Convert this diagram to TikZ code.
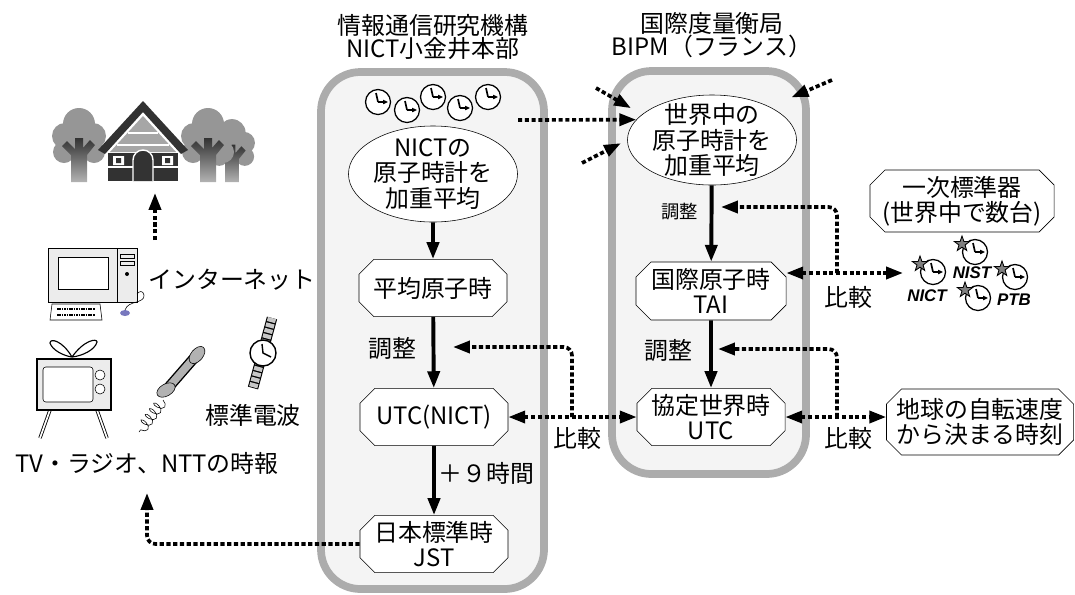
\documentclass[tikz,border=0pt]{standalone}
\usepackage{fontspec}
\setmainfont{Noto Sans CJK JP}
\newfontfamily\labfont{Liberation Sans}
\usetikzlibrary{arrows.meta,shapes.geometric,shapes.misc,decorations.pathmorphing}
\definecolor{framegray}{RGB}{172,172,172}
\definecolor{panelgray}{RGB}{244,244,244}
\definecolor{crowngray}{RGB}{150,150,150}
\definecolor{barkgray}{RGB}{50,50,50}
\definecolor{mousegray}{RGB}{120,120,190}
\newcommand{\jtext}{\fontsize{17}{18}\selectfont}
\newcommand{\jsmall}{\fontsize{13}{15}\selectfont}
\lineskiplimit=-20pt
\tikzset{
    bighead/.tip={Triangle[length=12pt, width=8.5pt]},
    site/.style={draw=framegray, line width=5.5pt, fill=panelgray, rounded corners=28pt},
    heading/.style={align=center, font=\fontsize{17}{16.5}\selectfont, inner sep=0pt},
    stage/.style={chamfered rectangle, chamfered rectangle xsep=7pt, draw, thin, fill=white,
        align=center, font=\jtext, inner sep=0pt},
    pool/.style={ellipse, draw, thin, fill=white, align=center, font=\jtext,
        inner xsep=0pt, inner ysep=-6pt},
    note/.style={font=\jtext, inner sep=1pt},
    lab/.style={font=\labfont\bfseries\itshape\fontsize{12}{12}\selectfont, inner sep=0pt},
    flow/.style={line width=2.8pt, -bighead},
    feed/.style={line width=2.6pt, dash pattern=on 3pt off 1.8pt, -bighead},
    compare/.style={feed, bighead-bighead},
    clock/.pic={
        \draw[line width=0.9pt, fill=white] (0,0) circle (12.5);
        \draw[line width=1.2pt] (-2,-9) -- (0,0);
        \draw[line width=1.2pt, -{Triangle[length=3.5pt, width=3pt]}] (0,0) -- (10,0);
    },
    starclock/.pic={
        \pic {clock};
        \draw[fill=gray, line width=0.6pt, shift={(-13,-8)}] (-90:8)
            \foreach \k in {1,...,9} { -- ({-90+36*\k}:{ifthenelse(mod(\k,2)==0,8,3.2)}) } -- cycle;
    },
    tree/.pic={
        \fill[crowngray] (0,-58) circle (16) (-14,-46) circle (13) (14,-46) circle (13)
            (-15,-30) circle (11) (15,-30) circle (11) (0,-36) circle (14);
        \shade[top color=barkgray, bottom color=gray!60] (-8,0) -- (-8,-27) -- (-17,-36) -- (-12,-41)
            -- (-4,-33) -- (-4,-44) -- (4,-44) -- (4,-34) -- (11,-42) -- (16,-37) -- (8,-27) -- (8,0) -- cycle;
    },
}

\begin{document}
\begin{tikzpicture}[x=0.025cm, y=-0.025cm]
\useasboundingbox (0,0) rectangle (1075,594);

% the two sites
\draw[site] (321,72) rectangle (544,589);
\draw[site] (612,71) rectangle (806,474);
\node[heading] (nicthead) at (433,37) {情報通信研究機構\\NICT小金井本部};
\node[heading] (bipmhead) at (712,35) {国際度量衡局\\BIPM（フランス）};

% clocks of NICT
\foreach \cx/\cy in {378/102, 407/110, 433/97, 460/108, 488/97}
    \pic at (\cx,\cy) {clock};

% NICT chain
\node[pool, minimum width=4.2cm, minimum height=2.4cm] (nictavg) at (433,174) {NICTの\\原子時計を\\加重平均};
\node[stage, minimum width=3.7cm, minimum height=1.43cm] (tam) at (433,288) {平均原子時};
\node[stage, minimum width=3.7cm, minimum height=1.43cm] (utcnict) at (434,417) {UTC(NICT)};
\node[stage, minimum width=3.7cm, minimum height=1.43cm] (jst) at (434,544) {日本標準時\\JST};

\draw[flow] (nictavg) -- (tam);
\draw[flow] (tam) -- node[note, left=10pt, pos=0.45] (adjnictlab) {調整} (utcnict);
\draw[flow] (utcnict) -- node[note, right=1pt, pos=0.4] (jstlab) {＋９時間} (jst);

% BIPM chain
\node[pool, minimum width=4.2cm, minimum height=2.25cm] (bipmavg) at (712,140) {世界中の\\原子時計を\\加重平均};
\node[stage, minimum width=3.75cm, minimum height=1.45cm] (tai) at (711,291) {国際原子時\\TAI};
\node[stage, minimum width=3.7cm, minimum height=1.43cm] (utc) at (711,417) {協定世界時\\UTC};

\draw[flow] (bipmavg) -- node[font=\jsmall, left=5pt, pos=0.35] (adjtailab) {調整} (tai);
\draw[flow] (tai) -- node[note, left=11pt, pos=0.45] (adjutclab) {調整} (utc);

% clocks sent to the BIPM
\coordinate (nictout) at (518,120);
\coordinate (labA) at (596,88);
\coordinate (labB) at (582,163);
\coordinate (labC) at (832,80);
\draw[feed] (nictout) -- (bipmavg.165);
\draw[feed, shorten >=9pt] (labA) -- (bipmavg.160);
\draw[feed, shorten >=5pt] (labB) -- (bipmavg.west);
\draw[feed, shorten >=17pt] (labC) -- (bipmavg.30);

% primary standards
\node[stage, minimum width=4.6cm, minimum height=1.55cm] (primary) at (962,201) {一次標準器\\(世界中で数台)};
\pic at (933,272) {starclock};
\pic at (975,252) {starclock};
\pic at (1015,277) {starclock};
\pic at (978,298) {starclock};
\node[lab] (nictlab) at (927,296) {NICT};
\node[lab] (nistlab) at (972,273) {NIST};
\node[lab] (ptblab) at (1014,300) {PTB};
\coordinate (stdclocks) at (903,273);

% comparisons and adjustments
\node[stage, minimum width=4.65cm, minimum height=1.65cm] (rotation) at (980,422) {地球の自転速度\\から決まる時刻};

\draw[compare] (stdclocks -| tai.east) -- (stdclocks);
\coordinate (cmptai) at (837,273);
\coordinate (adjtai) at (721,207);
\draw[feed, rounded corners=6pt] (cmptai) |- (adjtai);
\node[note] (cmptailab) at (848,297) {比較};

\draw[compare] (utc.east) -- (utc.east -| rotation.west);
\coordinate (cmputc) at (837,417);
\coordinate (adjutc) at (718,349);
\draw[feed, rounded corners=6pt] (cmputc) |- (adjutc);
\node[note] (cmputclab) at (848,438) {比較};

\draw[compare] (utcnict.east) -- (utc.west);
\coordinate (cmpnict) at (572,417);
\coordinate (adjnict) at (453,347);
\draw[feed, rounded corners=6pt] (cmpnict) |- (adjnict);
\node[note] (cmpnictlab) at (577,438) {比較};

% homes and trees
\pic[scale=0.85] at (232,182) {tree};
\pic at (208,182) {tree};
\pic at (79,182) {tree};
\fill[barkgray] (143,101) -- (188,150) -- (181,154) -- (143,112) -- (105,154) -- (98,150) -- cycle;
\fill[gray!70] (143,116) -- (176,152) -- (110,152) -- cycle;
\draw[white, line width=1.2pt] (128,133) -- (158,133) (117,145) -- (169,145);
\fill[barkgray] (108,153) rectangle (178,181);
\draw[white, line width=1pt] (108,167) -- (178,167);
\fill[white] (113,156) rectangle (124,165) (162,156) rectangle (173,165);
\fill[barkgray] (116,158) rectangle (121,163) (165,158) rectangle (170,163);
\draw[white, line width=1pt, fill=gray!40!black] (133,181) -- (133,160) arc[start angle=180, end angle=360, radius=10] -- (153,181);

% computer
\draw[fill=gray!15] (48,248) rectangle (117,302);
\draw[fill=white] (58,257) rectangle (108,289);
\draw[fill=gray!15] (117,248) rectangle (137,302);
\draw (120,254) rectangle (134,258) (120,261) rectangle (134,265);
\fill (127,274) circle (2);
\draw[fill=white] (52,304) -- (100,304) -- (102,320) -- (50,320) -- cycle;
\draw[line width=2pt, dash pattern=on 1.2pt off 0.5pt] (57,309) -- (95,309) (57,315) -- (95,315);
\fill[mousegray] (125,313) ellipse (5 and 3);
\draw (125,310) .. controls (128,300) and (145,304) .. (144,295) .. controls (143,290) and (139,291) .. (137,294);
\node[note] (netlab) at (232,280) {インターネット};
\coordinate (pctop) at (155,240);
\coordinate (homefoot) at (155,193);
\draw[feed] (pctop) -- (homefoot);

% television
\draw[line width=0.8pt, fill=white] (72,357) .. controls (62,340) and (50,338) .. (50,343) .. controls (52,350) and (64,356) .. (72,357);
\draw[line width=0.8pt, fill=white] (72,357) .. controls (84,340) and (97,338) .. (97,342) .. controls (95,350) and (82,356) .. (72,357);
\draw[double=white, double distance=1.2pt, line width=0.6pt] (50,410) -- (40,438) (97,410) -- (107,438);
\draw[line width=0.9pt, fill=gray!15] (37,359) rectangle (111,410);
\draw[fill=white, rounded corners=2pt] (43,367) rectangle (93,402);
\draw[fill=white] (100,375) circle (5) (100,389) circle (5);

% telephone
\draw[line width=7.5pt, line cap=round] (168,388) -- (195,357);
\draw[line width=5.5pt, gray!60, line cap=round] (168,388) -- (195,357);
\draw[fill=gray!60, rotate around={-40:(197,355)}] (197,355) ellipse (6 and 10);
\draw[fill=gray!60, rotate around={-60:(166,390)}] (166,390) ellipse (6 and 10);
\draw[decorate, decoration={coil, aspect=0.5, segment length=5pt, amplitude=4pt}] (163,400) -- (139,432);

% wrist watch
\draw[line width=7.5pt] (272,318) -- (253,388);
\draw[line width=6pt, gray!45, dash pattern=on 3pt off 1pt] (272,318) -- (253,388);
\draw[line width=1pt, fill=white] (263,353) circle (13);
\draw[line width=1pt] (262,344) -- (263,353) -- (271,357);
\node[note] (radiolab) at (253,415) {標準電波};

% broadcast services
\node[note] (tvlab) at (147,463) {TV・ラジオ、NTTの時報};
\coordinate (tvnote) at (147,493);
\draw[feed, rounded corners=6pt] (jst.west) -| (tvnote);
\end{tikzpicture}
\end{document}
